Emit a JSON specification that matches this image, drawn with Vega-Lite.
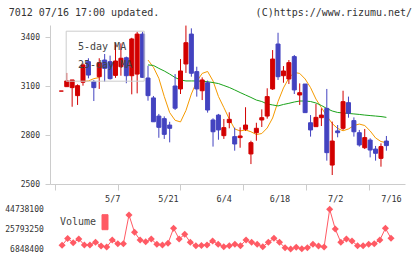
{
  "$schema": "https://vega.github.io/schema/vega-lite/v6.json",
  "background": "white",
  "padding": {"left": 4, "top": 8, "right": 0, "bottom": 0},
  "title": {
    "text": "7012 07/16 17:00 updated.\u00a0\u00a0\u00a0\u00a0\u00a0\u00a0\u00a0\u00a0\u00a0\u00a0\u00a0\u00a0\u00a0\u00a0\u00a0\u00a0(C)https://www.rizumu.net/",
    "anchor": "start",
    "font": "DejaVu Sans Mono",
    "fontSize": 10,
    "fontWeight": "normal",
    "color": "#333333",
    "offset": 7,
    "dx": 4
  },
  "spacing": 25.3,
  "bounds": "flush",
  "resolve": {"scale": {"color": "independent"}, "legend": {"color": "independent"}},
  "config": {
    "view": {"stroke": null},
    "font": "DejaVu Sans Mono",
    "axis": {"grid": false, "title": null},
    "legend": {"labelLimit": 0}
  },
  "datasets": {
    "candles": [
      {"i": 1, "date": "4/18", "open": 3069, "high": 3069, "low": 3069, "close": 3069},
      {"i": 2, "date": "4/21", "open": 3096, "high": 3180, "low": 3096, "close": 3131},
      {"i": 3, "date": "4/22", "open": 3090, "high": 3137, "low": 2973, "close": 3137},
      {"i": 4, "date": "4/23", "open": 3041, "high": 3110, "low": 2984, "close": 3102},
      {"i": 5, "date": "4/24", "open": 3123, "high": 3239, "low": 3102, "close": 3229},
      {"i": 6, "date": "4/25", "open": 3249, "high": 3270, "low": 3147, "close": 3167},
      {"i": 7, "date": "4/28", "open": 3126, "high": 3137, "low": 3008, "close": 3090},
      {"i": 8, "date": "4/30", "open": 3157, "high": 3270, "low": 3082, "close": 3243},
      {"i": 9, "date": "5/1", "open": 3259, "high": 3296, "low": 3126, "close": 3208},
      {"i": 10, "date": "5/2", "open": 3249, "high": 3286, "low": 3140, "close": 3145},
      {"i": 11, "date": "5/7", "open": 3165, "high": 3363, "low": 3150, "close": 3253},
      {"i": 12, "date": "5/8", "open": 3218, "high": 3361, "low": 3163, "close": 3270},
      {"i": 13, "date": "5/9", "open": 3273, "high": 3280, "low": 3117, "close": 3163},
      {"i": 14, "date": "5/12", "open": 3163, "high": 3395, "low": 3049, "close": 3388},
      {"i": 15, "date": "5/13", "open": 3173, "high": 3432, "low": 3055, "close": 3418},
      {"i": 16, "date": "5/14", "open": 3418, "high": 3432, "low": 3150, "close": 3153},
      {"i": 17, "date": "5/15", "open": 3149, "high": 3224, "low": 3010, "close": 3041},
      {"i": 18, "date": "5/16", "open": 3027, "high": 3039, "low": 2881, "close": 2881},
      {"i": 19, "date": "5/19", "open": 2916, "high": 2929, "low": 2783, "close": 2847},
      {"i": 20, "date": "5/20", "open": 2900, "high": 2914, "low": 2776, "close": 2804},
      {"i": 21, "date": "5/21", "open": 2861, "high": 2881, "low": 2755, "close": 2841},
      {"i": 22, "date": "5/22", "open": 3100, "high": 3173, "low": 2953, "close": 2964},
      {"i": 23, "date": "5/23", "open": 3082, "high": 3265, "low": 3051, "close": 3192},
      {"i": 24, "date": "5/26", "open": 3235, "high": 3470, "low": 3180, "close": 3365},
      {"i": 25, "date": "5/27", "open": 3418, "high": 3453, "low": 3157, "close": 3178},
      {"i": 26, "date": "5/28", "open": 3188, "high": 3218, "low": 3035, "close": 3082},
      {"i": 27, "date": "5/29", "open": 3071, "high": 3153, "low": 3014, "close": 3137},
      {"i": 28, "date": "5/30", "open": 3120, "high": 3133, "low": 2937, "close": 2953},
      {"i": 29, "date": "6/2", "open": 2892, "high": 2902, "low": 2729, "close": 2820},
      {"i": 30, "date": "6/3", "open": 2922, "high": 2929, "low": 2771, "close": 2831},
      {"i": 31, "date": "6/4", "open": 2796, "high": 2898, "low": 2776, "close": 2845},
      {"i": 32, "date": "6/5", "open": 2876, "high": 2939, "low": 2841, "close": 2896},
      {"i": 33, "date": "6/6", "open": 2790, "high": 2845, "low": 2704, "close": 2745},
      {"i": 34, "date": "6/9", "open": 2784, "high": 2847, "low": 2722, "close": 2794},
      {"i": 35, "date": "6/10", "open": 2835, "high": 2970, "low": 2825, "close": 2861},
      {"i": 36, "date": "6/11", "open": 2684, "high": 2765, "low": 2622, "close": 2753},
      {"i": 37, "date": "6/12", "open": 2814, "high": 2875, "low": 2765, "close": 2841},
      {"i": 38, "date": "6/13", "open": 2892, "high": 2957, "low": 2849, "close": 2906},
      {"i": 39, "date": "6/16", "open": 2916, "high": 3086, "low": 2900, "close": 3035},
      {"i": 40, "date": "6/17", "open": 3082, "high": 3320, "low": 3076, "close": 3265},
      {"i": 41, "date": "6/18", "open": 3357, "high": 3426, "low": 3137, "close": 3157},
      {"i": 42, "date": "6/19", "open": 3163, "high": 3222, "low": 3120, "close": 3192},
      {"i": 43, "date": "6/20", "open": 3143, "high": 3259, "low": 3112, "close": 3243},
      {"i": 44, "date": "6/23", "open": 3280, "high": 3290, "low": 3051, "close": 3076},
      {"i": 45, "date": "6/24", "open": 3045, "high": 3116, "low": 2984, "close": 3059},
      {"i": 46, "date": "6/25", "open": 3112, "high": 3112, "low": 2937, "close": 2937},
      {"i": 47, "date": "6/26", "open": 2875, "high": 2922, "low": 2790, "close": 2831},
      {"i": 48, "date": "6/27", "open": 2851, "high": 2990, "low": 2851, "close": 2908},
      {"i": 49, "date": "6/30", "open": 2906, "high": 2963, "low": 2855, "close": 2922},
      {"i": 50, "date": "7/1", "open": 2963, "high": 3082, "low": 2643, "close": 2692},
      {"i": 51, "date": "7/2", "open": 2616, "high": 2882, "low": 2555, "close": 2763},
      {"i": 52, "date": "7/3", "open": 2825, "high": 2861, "low": 2786, "close": 2814},
      {"i": 53, "date": "7/4", "open": 2841, "high": 3071, "low": 2831, "close": 3004},
      {"i": 54, "date": "7/7", "open": 2998, "high": 3035, "low": 2906, "close": 2933},
      {"i": 55, "date": "7/8", "open": 2888, "high": 2908, "low": 2790, "close": 2820},
      {"i": 56, "date": "7/9", "open": 2814, "high": 2831, "low": 2729, "close": 2739},
      {"i": 57, "date": "7/10", "open": 2722, "high": 2837, "low": 2714, "close": 2784},
      {"i": 58, "date": "7/11", "open": 2769, "high": 2780, "low": 2663, "close": 2708},
      {"i": 59, "date": "7/14", "open": 2714, "high": 2733, "low": 2643, "close": 2688},
      {"i": 60, "date": "7/15", "open": 2657, "high": 2749, "low": 2606, "close": 2729},
      {"i": 61, "date": "7/16", "open": 2763, "high": 2794, "low": 2704, "close": 2735}
    ],
    "ma": [
      {"series": "5-day MA", "part": "a", "i": 5, "value": 3128},
      {"series": "5-day MA", "part": "a", "i": 6, "value": 3131},
      {"series": "5-day MA", "part": "a", "i": 7, "value": 3145},
      {"series": "5-day MA", "part": "a", "i": 8, "value": 3152},
      {"series": "5-day MA", "part": "b", "i": 17, "value": 3259},
      {"series": "5-day MA", "part": "b", "i": 18, "value": 3215},
      {"series": "5-day MA", "part": "b", "i": 19, "value": 3147},
      {"series": "5-day MA", "part": "b", "i": 20, "value": 3036},
      {"series": "5-day MA", "part": "b", "i": 21, "value": 2937},
      {"series": "5-day MA", "part": "b", "i": 22, "value": 2890},
      {"series": "5-day MA", "part": "b", "i": 23, "value": 2880},
      {"series": "5-day MA", "part": "b", "i": 24, "value": 2950},
      {"series": "5-day MA", "part": "b", "i": 25, "value": 3051},
      {"series": "5-day MA", "part": "b", "i": 26, "value": 3128},
      {"series": "5-day MA", "part": "b", "i": 27, "value": 3177},
      {"series": "5-day MA", "part": "b", "i": 28, "value": 3189},
      {"series": "5-day MA", "part": "b", "i": 29, "value": 3131},
      {"series": "5-day MA", "part": "b", "i": 30, "value": 3036},
      {"series": "5-day MA", "part": "b", "i": 31, "value": 2968},
      {"series": "5-day MA", "part": "b", "i": 32, "value": 2898},
      {"series": "5-day MA", "part": "b", "i": 33, "value": 2837},
      {"series": "5-day MA", "part": "b", "i": 34, "value": 2825},
      {"series": "5-day MA", "part": "b", "i": 35, "value": 2831},
      {"series": "5-day MA", "part": "b", "i": 36, "value": 2820},
      {"series": "5-day MA", "part": "b", "i": 37, "value": 2803},
      {"series": "5-day MA", "part": "b", "i": 38, "value": 2809},
      {"series": "5-day MA", "part": "b", "i": 39, "value": 2843},
      {"series": "5-day MA", "part": "b", "i": 40, "value": 2904},
      {"series": "5-day MA", "part": "b", "i": 41, "value": 3005},
      {"series": "5-day MA", "part": "b", "i": 42, "value": 3088},
      {"series": "5-day MA", "part": "b", "i": 43, "value": 3149},
      {"series": "5-day MA", "part": "b", "i": 44, "value": 3183},
      {"series": "5-day MA", "part": "b", "i": 45, "value": 3177},
      {"series": "5-day MA", "part": "b", "i": 46, "value": 3143},
      {"series": "5-day MA", "part": "b", "i": 47, "value": 3090},
      {"series": "5-day MA", "part": "b", "i": 48, "value": 3020},
      {"series": "5-day MA", "part": "b", "i": 49, "value": 2968},
      {"series": "5-day MA", "part": "b", "i": 50, "value": 2916},
      {"series": "5-day MA", "part": "b", "i": 51, "value": 2870},
      {"series": "5-day MA", "part": "b", "i": 52, "value": 2840},
      {"series": "5-day MA", "part": "b", "i": 53, "value": 2826},
      {"series": "5-day MA", "part": "b", "i": 54, "value": 2837},
      {"series": "5-day MA", "part": "b", "i": 55, "value": 2858},
      {"series": "5-day MA", "part": "b", "i": 56, "value": 2867},
      {"series": "5-day MA", "part": "b", "i": 57, "value": 2858},
      {"series": "5-day MA", "part": "b", "i": 58, "value": 2825},
      {"series": "5-day MA", "part": "b", "i": 59, "value": 2782},
      {"series": "5-day MA", "part": "b", "i": 60, "value": 2760},
      {"series": "5-day MA", "part": "b", "i": 61, "value": 2753},
      {"series": "25-day MA", "part": "c", "i": 17, "value": 3229},
      {"series": "25-day MA", "part": "c", "i": 18, "value": 3226},
      {"series": "25-day MA", "part": "c", "i": 19, "value": 3208},
      {"series": "25-day MA", "part": "c", "i": 20, "value": 3192},
      {"series": "25-day MA", "part": "c", "i": 21, "value": 3173},
      {"series": "25-day MA", "part": "c", "i": 22, "value": 3152},
      {"series": "25-day MA", "part": "c", "i": 23, "value": 3137},
      {"series": "25-day MA", "part": "c", "i": 24, "value": 3131},
      {"series": "25-day MA", "part": "c", "i": 25, "value": 3131},
      {"series": "25-day MA", "part": "c", "i": 26, "value": 3131},
      {"series": "25-day MA", "part": "c", "i": 27, "value": 3129},
      {"series": "25-day MA", "part": "c", "i": 28, "value": 3126},
      {"series": "25-day MA", "part": "c", "i": 29, "value": 3121},
      {"series": "25-day MA", "part": "c", "i": 30, "value": 3115},
      {"series": "25-day MA", "part": "c", "i": 31, "value": 3103},
      {"series": "25-day MA", "part": "c", "i": 32, "value": 3091},
      {"series": "25-day MA", "part": "c", "i": 33, "value": 3076},
      {"series": "25-day MA", "part": "c", "i": 34, "value": 3060},
      {"series": "25-day MA", "part": "c", "i": 35, "value": 3045},
      {"series": "25-day MA", "part": "c", "i": 36, "value": 3030},
      {"series": "25-day MA", "part": "c", "i": 37, "value": 3014},
      {"series": "25-day MA", "part": "c", "i": 38, "value": 3005},
      {"series": "25-day MA", "part": "c", "i": 39, "value": 2990},
      {"series": "25-day MA", "part": "c", "i": 40, "value": 2984},
      {"series": "25-day MA", "part": "c", "i": 41, "value": 2978},
      {"series": "25-day MA", "part": "c", "i": 42, "value": 2987},
      {"series": "25-day MA", "part": "c", "i": 43, "value": 2994},
      {"series": "25-day MA", "part": "c", "i": 44, "value": 3002},
      {"series": "25-day MA", "part": "c", "i": 45, "value": 3008},
      {"series": "25-day MA", "part": "c", "i": 46, "value": 3008},
      {"series": "25-day MA", "part": "c", "i": 47, "value": 3005},
      {"series": "25-day MA", "part": "c", "i": 48, "value": 2996},
      {"series": "25-day MA", "part": "c", "i": 49, "value": 2981},
      {"series": "25-day MA", "part": "c", "i": 50, "value": 2962},
      {"series": "25-day MA", "part": "c", "i": 51, "value": 2947},
      {"series": "25-day MA", "part": "c", "i": 52, "value": 2938},
      {"series": "25-day MA", "part": "c", "i": 53, "value": 2935},
      {"series": "25-day MA", "part": "c", "i": 54, "value": 2932},
      {"series": "25-day MA", "part": "c", "i": 55, "value": 2929},
      {"series": "25-day MA", "part": "c", "i": 56, "value": 2926},
      {"series": "25-day MA", "part": "c", "i": 57, "value": 2922},
      {"series": "25-day MA", "part": "c", "i": 58, "value": 2919},
      {"series": "25-day MA", "part": "c", "i": 59, "value": 2916},
      {"series": "25-day MA", "part": "c", "i": 60, "value": 2913},
      {"series": "25-day MA", "part": "c", "i": 61, "value": 2908}
    ],
    "volume": [
      {"i": 2, "volume": 10379700}, {"i": 3, "volume": 16869600}, {"i": 4, "volume": 12861100},
      {"i": 5, "volume": 16392400}, {"i": 6, "volume": 10666000}, {"i": 7, "volume": 10666000},
      {"i": 8, "volume": 13242900}, {"i": 9, "volume": 9711600}, {"i": 10, "volume": 8757200},
      {"i": 11, "volume": 15438000}, {"i": 12, "volume": 11906700}, {"i": 13, "volume": 11906700},
      {"i": 14, "volume": 39298000}, {"i": 15, "volume": 22786900}, {"i": 16, "volume": 15438000},
      {"i": 17, "volume": 13815500}, {"i": 18, "volume": 16392400}, {"i": 19, "volume": 11334100},
      {"i": 20, "volume": 10666000}, {"i": 21, "volume": 12288500}, {"i": 22, "volume": 26604500},
      {"i": 23, "volume": 16392400}, {"i": 24, "volume": 20878100}, {"i": 25, "volume": 13242900},
      {"i": 26, "volume": 9997900}, {"i": 27, "volume": 10188800}, {"i": 28, "volume": 10666000},
      {"i": 29, "volume": 14483600}, {"i": 30, "volume": 11334100}, {"i": 31, "volume": 9043500},
      {"i": 32, "volume": 9997900}, {"i": 33, "volume": 11334100}, {"i": 34, "volume": 9997900},
      {"i": 35, "volume": 15438000}, {"i": 36, "volume": 13242900}, {"i": 37, "volume": 11334100},
      {"i": 38, "volume": 9043500}, {"i": 39, "volume": 13242900}, {"i": 40, "volume": 17060500},
      {"i": 41, "volume": 13242900}, {"i": 42, "volume": 8089100}, {"i": 43, "volume": 6848400},
      {"i": 44, "volume": 8470900}, {"i": 45, "volume": 7100000}, {"i": 46, "volume": 8089100},
      {"i": 47, "volume": 11334100}, {"i": 48, "volume": 9711600}, {"i": 49, "volume": 8757200},
      {"i": 50, "volume": 44738100}, {"i": 51, "volume": 25936400}, {"i": 52, "volume": 13242900},
      {"i": 53, "volume": 16392400}, {"i": 54, "volume": 14483600}, {"i": 55, "volume": 9997900},
      {"i": 56, "volume": 9997900}, {"i": 57, "volume": 11334100}, {"i": 58, "volume": 11906700},
      {"i": 59, "volume": 15438000}, {"i": 60, "volume": 26604500}, {"i": 61, "volume": 17060500}
    ]
  },
  "vconcat": [
    {
      "width": 355,
      "height": 159,
      "layer": [
        {
          "data": {"name": "ma"},
          "mark": {"type": "line", "strokeWidth": 1},
          "encoding": {
            "x": {
              "field": "i", "type": "quantitative",
              "scale": {"domain": [-0.166, 63.51], "nice": false, "zero": false},
              "axis": {
                "values": [-0.16, 5.623, 11.411, 17.2, 22.989, 28.778, 34.566, 40.355, 46.144, 51.932, 57.721, 63.5],
                "labels": false,
                "tickSize": 6,
                "tickColor": "#cccccc",
                "domainColor": "#cccccc",
                "title": null
              }
            },
            "y": {
              "field": "value", "type": "quantitative",
              "scale": {"domain": [2500, 3473.5], "nice": false, "zero": false},
              "axis": {
                "values": [2500, 2800, 3100, 3400],
                "format": "d",
                "tickSize": 5,
                "tickColor": "#cccccc",
                "domainColor": "#cccccc",
                "labelPadding": 5.5,
                "labelFont": "DejaVu Sans Mono",
                "labelFontSize": 8,
                "labelColor": "#333333",
                "title": null
              }
            },
            "color": {
              "field": "series", "type": "nominal",
              "scale": {"domain": ["5-day MA", "25-day MA"], "range": ["#f59a00", "#1aa31a"]},
              "legend": {
                "orient": "none",
                "legendX": 15.7,
                "legendY": 5.7,
                "title": null,
                "strokeColor": "#cccccc",
                "padding": 8.3,
                "symbolSize": 196,
                "symbolType": "square",
                "symbolOpacity": 0,
                "symbolOffset": 46,
                "labelOffset": -58,
                "rowPadding": 2.7,
                "labelFont": "DejaVu Sans Mono",
                "labelFontSize": 10,
                "labelColor": "#444444"
              }
            },
            "detail": {"field": "part"}
          }
        },
        {
          "data": {"name": "candles"},
          "mark": {"type": "rule", "strokeWidth": 1},
          "encoding": {
            "x": {"field": "i", "type": "quantitative"},
            "y": {"field": "low", "type": "quantitative"},
            "y2": {"field": "high"},
            "color": {"condition": {"test": "datum.close >= datum.open", "value": "#d20000"}, "value": "#4343c0"}
          }
        },
        {
          "data": {"name": "candles"},
          "mark": {"type": "bar", "size": 4, "strokeWidth": 1},
          "encoding": {
            "x": {"field": "i", "type": "quantitative"},
            "y": {"field": "open", "type": "quantitative"},
            "y2": {"field": "close"},
            "color": {"condition": {"test": "datum.close >= datum.open", "value": "#d20000"}, "value": "#4343c0"},
            "stroke": {"condition": {"test": "datum.close >= datum.open", "value": "#d20000"}, "value": "#4343c0"}
          }
        }
      ]
    },
    {
      "width": 355,
      "height": 39.7,
      "data": {"name": "volume"},
      "encoding": {
        "x": {
          "field": "i", "type": "quantitative",
          "scale": {"domain": [-0.166, 63.51], "nice": false, "zero": false},
          "axis": {
            "orient": "top",
            "values": [11, 21, 31, 41, 51, 61],
            "labelExpr": "datum.value == 11 ? '5/7' : datum.value == 21 ? '5/21' : datum.value == 31 ? '6/4' : datum.value == 41 ? '6/18' : datum.value == 51 ? '7/2' : '7/16'",
            "ticks": false,
            "domain": false,
            "labelPadding": 5.5,
            "labelFont": "DejaVu Sans Mono",
            "labelFontSize": 8.5,
            "labelColor": "#333333",
            "labelOverlap": false,
            "labelFlush": false,
            "title": null
          }
        },
        "y": {
          "field": "volume", "type": "quantitative",
          "scale": {"domain": [6848400, 44738100], "nice": false, "zero": false},
          "axis": {
            "values": [6848400, 25793250, 44738100],
            "format": "d",
            "domain": false,
            "ticks": false,
            "labelPadding": 6.7,
            "labelFont": "DejaVu Sans Mono",
            "labelFontSize": 8,
            "labelColor": "#333333",
            "labelOverlap": false,
            "title": null
          }
        },
        "color": {
          "datum": "Volume",
          "scale": {"range": ["#ff5a64"]},
          "legend": {
            "orient": "none",
            "legendX": 9,
            "legendY": 4.9,
            "title": null,
            "padding": 0,
            "symbolType": "M-0.4,-1H0.4V1H-0.4Z",
            "symbolSize": 225,
            "symbolOffset": 38,
            "labelOffset": -53,
            "labelFont": "DejaVu Sans Mono",
            "labelFontSize": 10,
            "labelColor": "#444444",
            "encode": {
              "symbols": {
                "update": {
                  "fill": {"value": "#ff5a64"},
                  "stroke": {"value": "#333333"},
                  "strokeWidth": {"value": 1},
                  "opacity": {"value": 1}
                }
              }
            }
          }
        }
      },
      "layer": [
        {"mark": {"type": "line", "strokeWidth": 1}},
        {"mark": {"type": "point", "shape": "diamond", "filled": true, "size": 50, "opacity": 1}}
      ]
    }
  ]
}
